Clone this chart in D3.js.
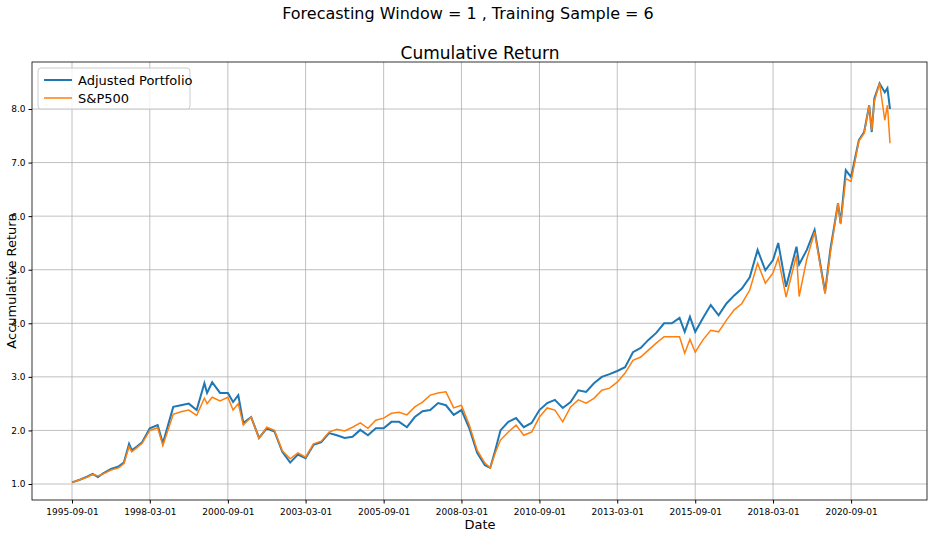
<!DOCTYPE html>
<html><head><meta charset="utf-8">
<script src="https://cdn.jsdelivr.net/npm/d3@7"></script>
<style>body{margin:0;background:#fff}text{font-family:"DejaVu Sans",sans-serif}</style>
</head><body><svg id="chart"></svg>
<script>
// données
const dates = ["1995-09","1995-12","1996-03","1996-05","1996-07","1996-09","1996-12","1997-03","1997-05","1997-07","1997-08","1997-10","1997-12",
"1998-03","1998-06","1998-08","1998-12","1999-03","1999-06","1999-09","1999-12","2000-01","2000-03","2000-06","2000-09","2000-11",
"2001-01","2001-03","2001-06","2001-09","2001-12","2002-03","2002-06","2002-09","2002-12","2003-03","2003-06","2003-09","2003-12",
"2004-03","2004-06","2004-09","2004-12","2005-03","2005-06","2005-09","2005-12","2006-03","2006-06","2006-09","2006-12",
"2007-03","2007-06","2007-09","2007-12","2008-03","2008-06","2008-09","2008-12","2009-02","2009-04","2009-06","2009-09","2009-12",
"2010-03","2010-06","2010-09","2010-12","2011-03","2011-06","2011-09","2011-12","2012-03","2012-06","2012-09","2012-12",
"2013-03","2013-06","2013-09","2013-12","2014-03","2014-06","2014-09","2014-12","2015-03","2015-05","2015-07","2015-09","2015-12",
"2016-03","2016-06","2016-09","2016-12","2017-03","2017-06","2017-09","2017-12","2018-03","2018-05","2018-08","2018-12","2019-01",
"2019-04","2019-07","2019-11","2020-01","2020-04","2020-05","2020-07","2020-09","2020-12","2021-02","2021-04","2021-05","2021-06",
"2021-08","2021-10","2021-11","2021-12"];
const portfolio = [1.03,1.08,1.14,1.19,1.13,1.20,1.28,1.33,1.40,1.75,1.63,1.70,1.78,
2.04,2.10,1.76,2.44,2.47,2.50,2.38,2.88,2.70,2.90,2.70,2.70,2.53,
2.66,2.14,2.25,1.86,2.04,1.98,1.60,1.40,1.55,1.48,1.73,1.78,1.95,
1.91,1.86,1.88,2.01,1.91,2.04,2.04,2.16,2.16,2.06,2.25,2.36,
2.38,2.51,2.47,2.29,2.38,2.04,1.58,1.35,1.30,1.63,2.00,2.16,2.23,
2.06,2.14,2.38,2.51,2.57,2.42,2.53,2.75,2.72,2.88,3.00,3.05,
3.11,3.18,3.46,3.54,3.69,3.82,4.00,4.00,4.10,3.84,4.12,3.84,4.10,
4.34,4.15,4.37,4.52,4.65,4.86,5.37,4.99,5.18,5.50,4.68,5.43,5.10,
5.37,5.74,4.58,5.37,6.24,5.87,6.86,6.73,7.42,7.57,8.07,7.57,8.20,
8.48,8.31,8.39,8.00];
const sp500 = [1.03,1.08,1.13,1.18,1.15,1.19,1.26,1.30,1.38,1.70,1.60,1.68,1.76,
2.00,2.05,1.72,2.30,2.35,2.38,2.28,2.60,2.50,2.62,2.55,2.62,2.38,
2.50,2.10,2.25,1.85,2.06,2.00,1.62,1.47,1.58,1.50,1.75,1.80,1.97,
2.02,1.99,2.06,2.14,2.04,2.19,2.23,2.32,2.34,2.29,2.44,2.53,
2.66,2.70,2.72,2.42,2.47,2.10,1.63,1.39,1.30,1.58,1.82,1.97,2.10,
1.91,1.97,2.25,2.42,2.38,2.16,2.44,2.57,2.51,2.60,2.75,2.79,
2.90,3.07,3.31,3.37,3.50,3.63,3.75,3.75,3.75,3.44,3.70,3.46,3.69,
3.87,3.84,4.06,4.25,4.37,4.62,5.12,4.75,4.94,5.22,4.49,5.27,4.50,
5.20,5.70,4.55,5.30,6.24,5.85,6.70,6.65,7.40,7.55,8.07,7.60,8.15,
8.48,7.79,8.07,7.36];
const xTicks = ["1995-09-01","1998-03-01","2000-09-01","2003-03-01","2005-09-01","2008-03-01","2010-09-01","2013-03-01","2015-09-01","2018-03-01","2020-09-01"];
const yTicks = [1,2,3,4,5,6,7,8];

const width = 936, height = 536;
const L = 32, R = 927, T = 62, B = 500;
const parse = d3.timeParse("%Y-%m");
const svg = d3.select("#chart").attr("width", width).attr("height", height);

const x = d3.scaleTime().domain([parse("1995-09"), parse("2021-12")]).range([72, 890]);
const y = d3.scaleLinear().domain([1, 8]).range([484, 109]);

// grille
svg.append("g").selectAll("line").data(xTicks).enter().append("line")
  .attr("x1", d => x(new Date(d))).attr("x2", d => x(new Date(d)))
  .attr("y1", T).attr("y2", B).attr("stroke", "#b0b0b0").attr("stroke-width", 0.8);
svg.append("g").selectAll("line").data(yTicks).enter().append("line")
  .attr("x1", L).attr("x2", R).attr("y1", d => y(d)).attr("y2", d => y(d))
  .attr("stroke", "#b0b0b0").attr("stroke-width", 0.8);

// axes
const xAxis = svg.append("g").attr("transform", `translate(0,${B})`)
  .call(d3.axisBottom(x).tickValues(xTicks.map(d => new Date(d))).tickFormat(d3.timeFormat("%Y-%m-%d")).tickSize(3.5).tickSizeOuter(0));
xAxis.select(".domain").remove();
xAxis.selectAll("text").attr("font-size", 9).attr("dy", "0.9em").attr("font-family", "DejaVu Sans");
const yAxis = svg.append("g").attr("transform", `translate(${L},0)`)
  .call(d3.axisLeft(y).tickValues(yTicks).tickSize(3.5).tickSizeOuter(0));
yAxis.select(".domain").remove();
yAxis.selectAll("text").attr("font-size", 9).attr("font-family", "DejaVu Sans");

svg.append("rect").attr("x", L).attr("y", T).attr("width", R - L).attr("height", B - T)
  .attr("fill", "none").attr("stroke", "#000").attr("stroke-width", 0.8);

// courbes
const line = vals => d3.line().x((d, i) => x(parse(dates[i]))).y(d => y(d))(vals);
svg.append("path").attr("d", line(portfolio)).attr("fill", "none").attr("stroke", "#1f77b4").attr("stroke-width", 2);
svg.append("path").attr("d", line(sp500)).attr("fill", "none").attr("stroke", "#ff7f0e").attr("stroke-width", 1.5);

// titres
svg.append("text").attr("x", 468).attr("y", 19).attr("text-anchor", "middle").attr("font-size", 16)
  .text("Forecasting Window = 1 , Training Sample = 6");
svg.append("text").attr("x", 480).attr("y", 59).attr("text-anchor", "middle").attr("font-size", 17)
  .text("Cumulative Return");
svg.append("text").attr("x", 480).attr("y", 529).attr("text-anchor", "middle").attr("font-size", 13).text("Date");
svg.append("text").attr("transform", "translate(16,281) rotate(-90)").attr("text-anchor", "middle").attr("font-size", 13)
  .text("Accumulative Return");

// légende
const leg = svg.append("g");
leg.append("rect").attr("x", 38).attr("y", 68).attr("width", 152).attr("height", 41).attr("rx", 3)
  .attr("fill", "#fff").attr("fill-opacity", 0.8).attr("stroke", "#ccc");
[["Adjusted Portfolio", "#1f77b4", 2], ["S&P500", "#ff7f0e", 1.5]].forEach((s, i) => {
  const yy = 80 + i * 18;
  leg.append("line").attr("x1", 44).attr("x2", 72).attr("y1", yy).attr("y2", yy).attr("stroke", s[1]).attr("stroke-width", s[2]);
  leg.append("text").attr("x", 78).attr("y", yy + 5).attr("font-size", 13).text(s[0]);
});
</script></body></html>
